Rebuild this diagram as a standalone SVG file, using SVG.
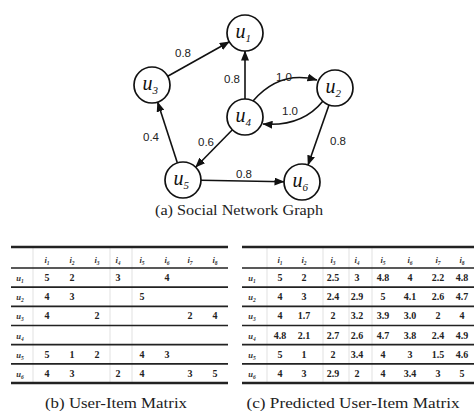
<svg xmlns="http://www.w3.org/2000/svg" width="475" height="411" viewBox="0 0 475 411">
  <style>
    .node circle { fill: #fff; stroke: #111; stroke-width: 1.7; }
    .nlabel { font-family: "Liberation Serif", "DejaVu Serif", serif; font-style: italic; font-size: 20px; fill: #111; }
    .nsub { font-size: 11px; }
    .edge { fill: none; stroke: #111; stroke-width: 1.6; }
    .elabel { font-family: "Liberation Sans", Arial, sans-serif; font-size: 11.5px; fill: #222; text-anchor: middle; }
    .caption { font-family: "Liberation Serif", "DejaVu Serif", serif; font-size: 15px; fill: #222; }
    .rule { stroke: #222; stroke-width: 1.7; }
    .rule-heavy { stroke: #222; stroke-width: 2.5; }
    .grid { stroke: #999; stroke-width: 0.6; opacity: 0.45; }
    .cell { font-family: "Liberation Serif", "DejaVu Serif", serif; font-weight: bold; font-size: 10px; fill: #222; text-anchor: middle; }
    .hdr { font-family: "Liberation Serif", "DejaVu Serif", serif; font-style: italic; font-weight: bold; font-size: 8.5px; fill: #333; text-anchor: middle; }
    .sub { font-size: 5.5px; }
  </style>
  <defs>
    <marker id="arrow" markerUnits="userSpaceOnUse" markerWidth="10" markerHeight="8" refX="9.5" refY="4" orient="auto">
      <path d="M0,0 L10,4 L0,8 z" fill="#111"/>
    </marker>
  </defs>

  <!-- (a) social network graph -->
  <g id="connectors">
    <line class="edge" x1="167.7" y1="76.2" x2="229.3" y2="41.8" marker-end="url(#arrow)"/>
    <line class="edge" x1="245" y1="99" x2="245" y2="51" marker-end="url(#arrow)"/>
    <path class="edge" d="M253,101 Q280,70 317,80" marker-end="url(#arrow)"/>
    <path class="edge" d="M323,101 Q302,127 263,124" marker-end="url(#arrow)"/>
    <line class="edge" x1="232.4" y1="129.8" x2="195.6" y2="167.2" marker-end="url(#arrow)"/>
    <line class="edge" x1="177.4" y1="162.9" x2="157.6" y2="102.1" marker-end="url(#arrow)"/>
    <line class="edge" x1="201" y1="180.3" x2="284" y2="181.7" marker-end="url(#arrow)"/>
    <line class="edge" x1="329" y1="105" x2="308" y2="165" marker-end="url(#arrow)"/>
    <text class="elabel" x="183" y="57">0.8</text>
    <text class="elabel" x="232" y="83">0.8</text>
    <text class="elabel" x="284" y="81">1.0</text>
    <text class="elabel" x="290" y="115">1.0</text>
    <text class="elabel" x="206" y="146">0.6</text>
    <text class="elabel" x="151" y="141">0.4</text>
    <text class="elabel" x="244" y="178">0.8</text>
    <text class="elabel" x="338" y="145">0.8</text>
  </g>

  <g id="u1" class="node"><circle cx="245" cy="33" r="18"/><text class="nlabel" x="235.5" y="38">u<tspan class="nsub" dy="4">1</tspan></text></g>
  <g id="u2" class="node"><circle cx="335" cy="88" r="18"/><text class="nlabel" x="325.5" y="93">u<tspan class="nsub" dy="4">2</tspan></text></g>
  <g id="u3" class="node"><circle cx="152" cy="85" r="18"/><text class="nlabel" x="142.5" y="90">u<tspan class="nsub" dy="4">3</tspan></text></g>
  <g id="u4" class="node"><circle cx="245" cy="117" r="18"/><text class="nlabel" x="235.5" y="122">u<tspan class="nsub" dy="4">4</tspan></text></g>
  <g id="u5" class="node"><circle cx="183" cy="180" r="18"/><text class="nlabel" x="173.5" y="185">u<tspan class="nsub" dy="4">5</tspan></text></g>
  <g id="u6" class="node"><circle cx="302" cy="182" r="18"/><text class="nlabel" x="292.5" y="187">u<tspan class="nsub" dy="4">6</tspan></text></g>

  <text class="caption" x="239" y="215" text-anchor="middle" textLength="168" lengthAdjust="spacingAndGlyphs">(a) Social Network Graph</text>

  <!-- (b) user-item matrix -->
  <g id="matrix-b">
    <line class="grid" x1="33" y1="248" x2="33" y2="383"/>
    <line class="grid" x1="110" y1="248" x2="110" y2="383"/>
    <line class="grid" x1="132" y1="248" x2="132" y2="383"/>
    <line class="rule-heavy" x1="11" y1="247" x2="228" y2="247"/>
    <line class="rule" x1="11" y1="268" x2="228" y2="268"/>
    <line class="rule" x1="11" y1="287.2" x2="228" y2="287.2"/>
    <line class="rule" x1="11" y1="306.3" x2="228" y2="306.3"/>
    <line class="rule" x1="11" y1="325.5" x2="228" y2="325.5"/>
    <line class="rule" x1="11" y1="344.7" x2="228" y2="344.7"/>
    <line class="rule" x1="11" y1="363.8" x2="228" y2="363.8"/>
    <line class="rule-heavy" x1="11" y1="383" x2="228" y2="383"/>
    <g class="hdr">
      <text x="47" y="263">i<tspan class="sub" dy="2">1</tspan></text>
      <text x="72" y="263">i<tspan class="sub" dy="2">2</tspan></text>
      <text x="97" y="263">i<tspan class="sub" dy="2">3</tspan></text>
      <text x="118" y="263">i<tspan class="sub" dy="2">4</tspan></text>
      <text x="142" y="263">i<tspan class="sub" dy="2">5</tspan></text>
      <text x="167" y="263">i<tspan class="sub" dy="2">6</tspan></text>
      <text x="190" y="263">i<tspan class="sub" dy="2">7</tspan></text>
      <text x="215" y="263">i<tspan class="sub" dy="2">8</tspan></text>
      <text x="20" y="281">u<tspan class="sub" dy="2">1</tspan></text>
      <text x="20" y="300">u<tspan class="sub" dy="2">2</tspan></text>
      <text x="20" y="319">u<tspan class="sub" dy="2">3</tspan></text>
      <text x="20" y="339">u<tspan class="sub" dy="2">4</tspan></text>
      <text x="20" y="358">u<tspan class="sub" dy="2">5</tspan></text>
      <text x="20" y="377">u<tspan class="sub" dy="2">6</tspan></text>
    </g>
    <g class="cell">
      <text x="47" y="281">5</text><text x="72" y="281">2</text><text x="118" y="281">3</text><text x="167" y="281">4</text>
      <text x="47" y="300">4</text><text x="72" y="300">3</text><text x="142" y="300">5</text>
      <text x="47" y="319">4</text><text x="97" y="319">2</text><text x="190" y="319">2</text><text x="215" y="319">4</text>
      <text x="47" y="358">5</text><text x="72" y="358">1</text><text x="97" y="358">2</text><text x="142" y="358">4</text><text x="167" y="358">3</text>
      <text x="47" y="377">4</text><text x="72" y="377">3</text><text x="118" y="377">2</text><text x="142" y="377">4</text><text x="190" y="377">3</text><text x="215" y="377">5</text>
    </g>
  </g>
  <text class="caption" x="116" y="408" text-anchor="middle" textLength="142" lengthAdjust="spacingAndGlyphs">(b) User-Item Matrix</text>

  <!-- (c) predicted user-item matrix -->
  <g id="matrix-c">
    <line class="grid" x1="267" y1="248" x2="267" y2="383"/>
    <line class="grid" x1="323" y1="248" x2="323" y2="383"/>
    <line class="grid" x1="349" y1="248" x2="349" y2="383"/>
    <line class="grid" x1="372" y1="248" x2="372" y2="383"/>
    <line class="rule-heavy" x1="242" y1="247" x2="474" y2="247"/>
    <line class="rule" x1="242" y1="268" x2="474" y2="268"/>
    <line class="rule" x1="242" y1="287.2" x2="474" y2="287.2"/>
    <line class="rule" x1="242" y1="306.3" x2="474" y2="306.3"/>
    <line class="rule" x1="242" y1="325.5" x2="474" y2="325.5"/>
    <line class="rule" x1="242" y1="344.7" x2="474" y2="344.7"/>
    <line class="rule" x1="242" y1="363.8" x2="474" y2="363.8"/>
    <line class="rule-heavy" x1="242" y1="383" x2="474" y2="383"/>
    <g class="hdr">
      <text x="280" y="263">i<tspan class="sub" dy="2">1</tspan></text>
      <text x="304" y="263">i<tspan class="sub" dy="2">2</tspan></text>
      <text x="333" y="263">i<tspan class="sub" dy="2">3</tspan></text>
      <text x="357" y="263">i<tspan class="sub" dy="2">4</tspan></text>
      <text x="383" y="263">i<tspan class="sub" dy="2">5</tspan></text>
      <text x="410" y="263">i<tspan class="sub" dy="2">6</tspan></text>
      <text x="438" y="263">i<tspan class="sub" dy="2">7</tspan></text>
      <text x="462" y="263">i<tspan class="sub" dy="2">8</tspan></text>
      <text x="252" y="281">u<tspan class="sub" dy="2">1</tspan></text>
      <text x="252" y="300">u<tspan class="sub" dy="2">2</tspan></text>
      <text x="252" y="319">u<tspan class="sub" dy="2">3</tspan></text>
      <text x="252" y="339">u<tspan class="sub" dy="2">4</tspan></text>
      <text x="252" y="358">u<tspan class="sub" dy="2">5</tspan></text>
      <text x="252" y="377">u<tspan class="sub" dy="2">6</tspan></text>
    </g>
    <g class="cell">
      <text x="280" y="281">5</text><text x="304" y="281">2</text><text x="333" y="281">2.5</text><text x="357" y="281">3</text><text x="383" y="281">4.8</text><text x="410" y="281">4</text><text x="438" y="281">2.2</text><text x="462" y="281">4.8</text>
      <text x="280" y="300">4</text><text x="304" y="300">3</text><text x="333" y="300">2.4</text><text x="357" y="300">2.9</text><text x="383" y="300">5</text><text x="410" y="300">4.1</text><text x="438" y="300">2.6</text><text x="462" y="300">4.7</text>
      <text x="280" y="319">4</text><text x="304" y="319">1.7</text><text x="333" y="319">2</text><text x="357" y="319">3.2</text><text x="383" y="319">3.9</text><text x="410" y="319">3.0</text><text x="438" y="319">2</text><text x="462" y="319">4</text>
      <text x="280" y="339">4.8</text><text x="304" y="339">2.1</text><text x="333" y="339">2.7</text><text x="357" y="339">2.6</text><text x="383" y="339">4.7</text><text x="410" y="339">3.8</text><text x="438" y="339">2.4</text><text x="462" y="339">4.9</text>
      <text x="280" y="358">5</text><text x="304" y="358">1</text><text x="333" y="358">2</text><text x="357" y="358">3.4</text><text x="383" y="358">4</text><text x="410" y="358">3</text><text x="438" y="358">1.5</text><text x="462" y="358">4.6</text>
      <text x="280" y="377">4</text><text x="304" y="377">3</text><text x="333" y="377">2.9</text><text x="357" y="377">2</text><text x="383" y="377">4</text><text x="410" y="377">3.4</text><text x="438" y="377">3</text><text x="462" y="377">5</text>
    </g>
  </g>
  <text class="caption" x="353" y="408" text-anchor="middle" textLength="213" lengthAdjust="spacingAndGlyphs">(c) Predicted User-Item Matrix</text>
</svg>
